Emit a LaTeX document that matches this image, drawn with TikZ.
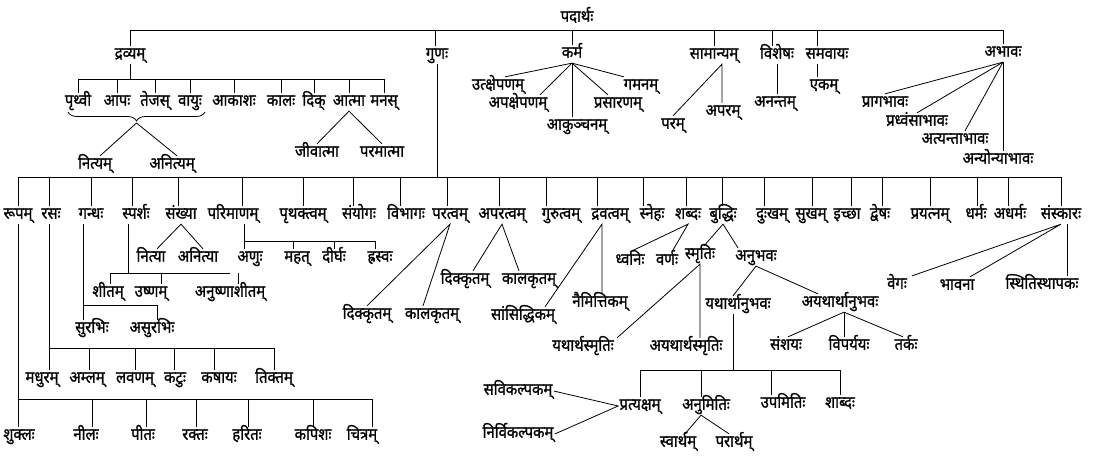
\documentclass[tikz,border=0pt]{standalone}
\usepackage{fontspec}
\newfontfamily\dev[Script=Devanagari,FakeBold=1.1,FakeStretch=0.9]{Noto Sans}
\usetikzlibrary{decorations.pathreplacing}
\tikzset{
  lbl/.style={font=\dev\fontsize{16.5}{18}\selectfont, inner xsep=1pt, inner ysep=2pt, text height=10.5pt, text depth=3pt},
}
\begin{document}
\begin{tikzpicture}[x=1pt,y=-1pt,line width=0.8pt]
\useasboundingbox (0,0) rectangle (1099,462);

\node[lbl] (padartha) at (577,18) {पदार्थः};
\node[lbl] (dravya) at (130,55) {द्रव्यम्};
\node[lbl] (guna) at (437,55) {गुणः};
\node[lbl] (karma) at (572,54) {कर्म};
\node[lbl] (samanya) at (714,55) {सामान्यम्};
\node[lbl] (vishesha) at (777,55) {विशेषः};
\node[lbl] (samavaya) at (827,55) {समवायः};
\node[lbl] (abhava) at (1003,53) {अभावः};

\coordinate (topbus) at (0,30);
\draw (dravya.north) |- (topbus -| abhava) -- (abhava.north);
\foreach \n/\dx in {guna/-2,karma/0,samanya/0,vishesha/-5,samavaya/-10}{
  \path ([xshift=\dx pt]\n.north) coordinate (t);
  \draw (t) -- (t |- topbus);
}

\node[lbl] (prthvi) at (78,102) {पृथ्वी};
\node[lbl] (apah) at (117,102) {आपः};
\node[lbl] (tejas) at (155,102) {तेजस्};
\node[lbl] (vayu) at (190,102) {वायुः};
\node[lbl] (akasha) at (234,102) {आकाशः};
\node[lbl] (kala) at (281,102) {कालः};
\node[lbl] (dik) at (314,102) {दिक्};
\node[lbl] (atma) at (349,102) {आत्मा};
\node[lbl] (manas) at (384,102) {मनस्};

\coordinate (dbus) at (0,79);
\draw (dravya.south) -- (dravya |- dbus);
\draw (prthvi.north) |- (dbus -| manas) -- (manas.north);
\foreach \n in {apah,tejas,vayu,akasha,kala,dik,atma}{
  \draw (\n.north) -- (\n |- dbus);
}

\coordinate (bl) at (68,112);
\coordinate (br) at (205,112);
\coordinate (btip) at (136.5,123);
\draw[decorate,decoration={brace,mirror,amplitude=9pt}] (bl) -- (br);
\node[lbl] (nitya) at (95,165) {नित्यम्};
\node[lbl] (anitya) at (172,165) {अनित्यम्};
\draw (btip) -- ([xshift=5pt]nitya.north);
\draw (btip) -- ([xshift=5pt]anitya.north);

\node[lbl] (jiva) at (317,153) {जीवात्मा};
\node[lbl] (parama) at (382,153) {परमात्मा};
\draw (jiva.north) -- (atma.south) -- (parama.north);

\node[lbl] (utksh) at (498,86) {उत्क्षेपणम्};
\node[lbl] (apaksh) at (518,104) {अपक्षेपणम्};
\node[lbl] (akunch) at (577,126) {आकुञ्चनम्};
\node[lbl] (prasar) at (618,104) {प्रसारणम्};
\node[lbl] (gamana) at (641,86) {गमनम्};
\draw ([xshift=7pt]utksh.north) -- (karma.south);
\draw ([xshift=22pt]apaksh.north) -- (karma.south);
\draw (karma.south) -- (karma.south |- akunch.north);
\draw ([xshift=-10pt]prasar.north) -- (karma.south);
\draw ([xshift=-17pt]gamana.north) -- (karma.south);

\node[lbl] (param) at (673,125) {परम्};
\node[lbl] (aparam) at (723,112) {अपरम्};
\path ([xshift=8pt]samanya.south) coordinate (sapex);
\draw (param.north) -- (sapex) -- (sapex |- aparam.north);

\node[lbl] (ananta) at (775,103) {अनन्तम्};
\node[lbl] (eka) at (824,86) {एकम्};
\draw (vishesha.south) -- (vishesha.south |- ananta.north);
\draw ([xshift=-10pt]samavaya.south) -- ([xshift=-10pt]samavaya.south |- eka.north);

\node[lbl] (praga) at (885,103) {प्रागभावः};
\node[lbl] (pradhvamsa) at (917,122) {प्रध्वंसाभावः};
\node[lbl] (atyanta) at (955,140) {अत्यन्ताभावः};
\node[lbl] (anyonya) at (998,160) {अन्योन्याभावः};
\draw (praga.north) -- (abhava.south);
\draw (pradhvamsa.north) -- (abhava.south);
\draw ([xshift=10pt]atyanta.north) -- (abhava.south);
\draw (abhava.south) -- (abhava.south |- anyonya.north);

\node[lbl] (rupa) at (18,215) {रूपम्};
\node[lbl] (rasa) at (51,215) {रसः};
\node[lbl] (gandha) at (91,215) {गन्धः};
\node[lbl] (sparsha) at (136,215) {स्पर्शः};
\node[lbl] (sankhya) at (181,215) {संख्या};
\node[lbl] (parimana) at (233,215) {परिमाणम्};
\node[lbl] (prthaktva) at (303,215) {पृथक्त्वम्};
\node[lbl] (samyoga) at (359,215) {संयोगः};
\node[lbl] (vibhaga) at (406,215) {विभागः};
\node[lbl] (paratva) at (450,215) {परत्वम्};
\node[lbl] (aparatva) at (502,215) {अपरत्वम्};
\node[lbl] (gurutva) at (561,215) {गुरुत्वम्};
\node[lbl] (dravatva) at (610,215) {द्रवत्वम्};
\node[lbl] (sneha) at (652,215) {स्नेहः};
\node[lbl] (shabda) at (688,215) {शब्दः};
\node[lbl] (buddhi) at (723,215) {बुद्धिः};
\node[lbl] (duhkha) at (772,215) {दुःखम्};
\node[lbl] (sukha) at (811,215) {सुखम्};
\node[lbl] (iccha) at (847,215) {इच्छा};
\node[lbl] (dvesha) at (880,215) {द्वेषः};
\node[lbl] (prayatna) at (930,215) {प्रयत्नम्};
\node[lbl] (dharma) at (976,215) {धर्मः};
\node[lbl] (adharma) at (1010,215) {अधर्मः};
\node[lbl] (samskara) at (1061,215) {संस्कारः};

\coordinate (gbus) at (0,177);
\draw (guna.south) -- (guna.south |- gbus);
\draw (gbus -| rupa) -- (gbus -| samskara);
\foreach \n/\dx in {rupa/0,rasa/-2,gandha/0,sparsha/-4,sankhya/-3,parimana/9,prthaktva/0,samyoga/-6,vibhaga/-6,paratva/-3,aparatva/-3,gurutva/-15,dravatva/-13,sneha/-9,shabda/-2,buddhi/-1,duhkha/-8,sukha/1,iccha/4,dvesha/2,prayatna/0,dharma/1,adharma/-2,samskara/0}{
  \path ([xshift=\dx pt]\n.north) coordinate (t);
  \draw (t) -- (t |- gbus);
}

\node[lbl] (shukla) at (19,436) {शुक्लः};
\node[lbl] (nila) at (86,436) {नीलः};
\node[lbl] (pita) at (143,436) {पीतः};
\node[lbl] (rakta) at (195,436) {रक्तः};
\node[lbl] (harita) at (247,436) {हरितः};
\node[lbl] (kapisha) at (313,436) {कपिशः};
\node[lbl] (citra) at (362,436) {चित्रम्};
\coordinate (cbus) at (0,399);
\draw (rupa.south) -- (rupa.south |- shukla.north);
\path ([xshift=10pt]citra.north) coordinate (cend);
\draw (rupa |- cbus) -- (cend |- cbus);
\foreach \n/\dx in {nila/6,pita/3,rakta/1,harita/1,kapisha/0,citra/10}{
  \path ([xshift=\dx pt]\n.north) coordinate (t);
  \draw (t) -- (t |- cbus);
}

\node[lbl] (madhura) at (42,379) {मधुरम्};
\node[lbl] (amla) at (87,379) {अम्लम्};
\node[lbl] (lavana) at (135,379) {लवणम्};
\node[lbl] (katu) at (175,379) {कटुः};
\node[lbl] (kashaya) at (219,379) {कषायः};
\node[lbl] (tikta) at (274,379) {तिक्तम्};
\coordinate (tbus) at (0,348);
\path ([xshift=-2pt]rasa.south) coordinate (rv);
\draw (rv) -- (rv |- madhura.north);
\draw (rv |- tbus) -- (tikta |- tbus);
\foreach \n/\dx in {amla/2,lavana/0,katu/-1,kashaya/-5,tikta/0}{
  \path ([xshift=\dx pt]\n.north) coordinate (t);
  \draw (t) -- (t |- tbus);
}

\node[lbl] (surabhi) at (92,329) {सुरभिः};
\node[lbl] (asurabhi) at (152,329) {असुरभिः};
\coordinate (sbus) at (0,305);
\path ([xshift=-8pt]gandha.south) coordinate (gv);
\path ([xshift=5pt]asurabhi.north) coordinate (av);
\draw (gv) -- (gv |- surabhi.north);
\draw (gv |- sbus) -- (av |- sbus) -- (av);

\node[lbl] (shita) at (108,293) {शीतम्};
\node[lbl] (ushna) at (151,293) {उष्णम्};
\node[lbl] (anushna) at (230,293) {अनुष्णाशीतम्};
\coordinate (pbus) at (0,273);
\path ([xshift=-8pt]sparsha.south) coordinate (spv);
\draw (spv) -- (spv |- pbus);
\draw ([xshift=2pt]shita.north) |- (pbus -| anushna.north);
\foreach \n/\dx in {ushna/10,anushna/8}{
  \path ([xshift=\dx pt]\n.north) coordinate (t);
  \draw (t) -- (t |- pbus);
}

\node[lbl] (nitya2) at (151,258) {नित्या};
\node[lbl] (anitya2) at (198,258) {अनित्या};
\draw ([xshift=6pt]nitya2.north) -- (sankhya.south) -- ([xshift=5pt]anitya2.north);

\node[lbl] (anu) at (250,258) {अणुः};
\node[lbl] (mahat) at (297,258) {महत्};
\node[lbl] (dirgha) at (334,258) {दीर्घः};
\node[lbl] (hrasva) at (380,258) {ह्रस्वः};
\coordinate (mbus) at (0,241);
\path ([xshift=11pt]parimana.south) coordinate (pv);
\draw (pv) -- (pv |- anu.north);
\path ([xshift=-5pt]hrasva.north) coordinate (hv);
\draw (pv |- mbus) -- (hv |- mbus) -- (hv);
\foreach \n/\dx in {mahat/-4,dirgha/0}{
  \path ([xshift=\dx pt]\n.north) coordinate (t);
  \draw (t) -- (t |- mbus);
}

\node[lbl] (dikk1) at (367,315) {दिक्कृतम्};
\node[lbl] (kalak1) at (432,315) {कालकृतम्};
\draw (dikk1.north) -- (paratva.south) -- ([xshift=-9pt]kalak1.north);

\node[lbl] (dikk2) at (465,280) {दिक्कृतम्};
\node[lbl] (kalak2) at (529,280) {कालकृतम्};
\draw ([xshift=8pt]dikk2.north) -- (aparatva.south) -- ([xshift=-10pt]kalak2.north);

\node[lbl] (sansid) at (523,316) {सांसिद्धिकम्};
\node[lbl] (naimit) at (600,303) {नैमित्तिकम्};
\path ([xshift=-8pt]dravatva.south) coordinate (dv);
\draw ([xshift=22pt]sansid.north) -- (dv) -- (dv |- naimit.north);

\node[lbl] (dhvani) at (630,261) {ध्वनिः};
\node[lbl] (varna) at (667,261) {वर्णः};
\draw (dhvani.north) -- (shabda.south) -- ([xshift=5pt]varna.north);

\node[lbl] (smrti) at (700,255) {स्मृतिः};
\node[lbl] (anubhava) at (756,257) {अनुभवः};
\draw ([xshift=4pt]smrti.north) -- (buddhi.south) -- ([xshift=-18pt]anubhava.north);

\node[lbl] (yathasmr) at (583,347) {यथार्थस्मृतिः};
\node[lbl] (ayathasmr) at (686,347) {अयथार्थस्मृतिः};
\draw ([xshift=34pt]yathasmr.north) -- (smrti.south) -- (smrti.south |- ayathasmr.north);

\node[lbl] (yathanubh) at (738,305) {यथार्थानुभवः};
\node[lbl] (ayathanubh) at (840,303) {अयथार्थानुभवः};
\draw ([xshift=-5pt]yathanubh.north) -- (anubhava.south) -- ([xshift=-22pt]ayathanubh.north);

\node[lbl] (pratyaksha) at (640,406) {प्रत्यक्षम्};
\node[lbl] (anumiti) at (706,406) {अनुमितिः};
\node[lbl] (upamiti) at (783,404) {उपमितिः};
\node[lbl] (shabda2) at (840,404) {शाब्दः};
\coordinate (ybus) at (0,370);
\path ([xshift=-5pt]yathanubh.south) coordinate (yv);
\draw (yv) -- (yv |- ybus);
\draw (pratyaksha.north) |- (ybus -| shabda2) -- (shabda2.north);
\foreach \n/\dx in {anumiti/-5,upamiti/-12}{
  \path ([xshift=\dx pt]\n.north) coordinate (t);
  \draw (t) -- (t |- ybus);
}

\node[lbl] (savik) at (518,391) {सविकल्पकम्};
\node[lbl] (nirvik) at (518,434) {निर्विकल्पकम्};
\draw (savik.east) -- (pratyaksha.west) -- (nirvik.east);

\node[lbl] (svartha) at (678,443) {स्वार्थम्};
\node[lbl] (parartha) at (734,443) {परार्थम्};
\path ([xshift=-5pt]anumiti.south) coordinate (nv);
\draw ([xshift=7pt]svartha.north) -- (nv) -- ([xshift=-5pt]parartha.north);

\node[lbl] (samshaya) at (786,346) {संशयः};
\node[lbl] (viparyaya) at (849,346) {विपर्ययः};
\node[lbl] (tarka) at (906,346) {तर्कः};
\path ([xshift=4pt]ayathanubh.south) coordinate (av2);
\draw ([xshift=2pt]samshaya.north) -- (av2) -- ([xshift=-3pt]tarka.north);
\draw (av2) -- (av2 |- viparyaya.north);

\node[lbl] (vega) at (897,285) {वेगः};
\node[lbl] (bhavana) at (957,286) {भावना};
\node[lbl] (sthiti) at (1042,285) {स्थितिस्थापकः};
\path ([xshift=6pt]samskara.south) coordinate (skv);
\draw ([xshift=15pt]vega.north) -- (samskara.south) -- ([xshift=13pt]bhavana.north);
\draw (skv) -- (skv |- sthiti.north);
\end{tikzpicture}
\end{document}
